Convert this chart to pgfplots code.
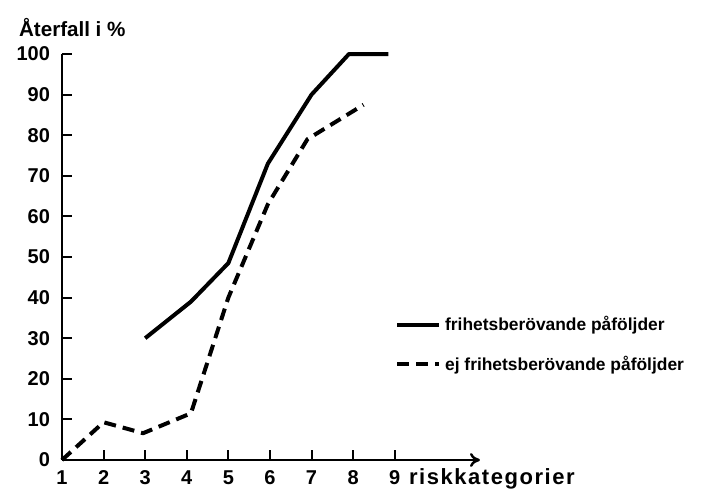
\documentclass[border=0pt]{standalone}
\usepackage{fontspec}
\setmainfont{Liberation Sans}
\usepackage{pgfplots}
\pgfplotsset{compat=1.18}
\usetikzlibrary{arrows.meta}

\begin{document}
\begin{tikzpicture}
\useasboundingbox (-31pt,-14.5pt) rectangle (326pt,230pt);
\begin{axis}[
    scale only axis,
    width=209pt, height=203pt,
    xmin=1, xmax=11.05,
    ymin=0, ymax=100,
    axis x line*=bottom,
    axis y line*=left,
    axis line style={line width=1.2pt},
    x axis line style={-{To[length=5pt,width=7pt]}},
    xtick={1,...,9},
    ytick={0,10,...,100},
    xtick pos=bottom, ytick pos=left,
    tick align=inside,
    major tick length=5pt,
    tick style={line width=1pt, black},
    ticklabel style={font=\fontsize{10}{12}\selectfont\bfseries},
    /pgf/number format/assume math mode=true,
    yticklabel style={xshift=-2.5pt},
    xticklabel style={anchor=base, yshift=-12pt},
    clip=false,
    legend style={draw=none, fill=none, at={(axis cs:9,28.4)}, anchor=west,
        font=\fontsize{8.7}{10}\selectfont\bfseries, row sep=7pt, inner sep=0pt,
        cells={anchor=west}},
    legend image code/.code={\draw[#1] (0pt,0pt) -- (21pt,0pt);},
]
% frihetsberovande
\addplot[black, line width=2pt, line join=round] coordinates {
    (3,30)(4.1,39)(5,48.5)(5.95,73)(7,90)(7.9,100)(8.85,100)
};
\addlegendentry{frihetsberövande påföljder}
% ej frihetsberovande
\addplot[black, line width=2pt, line join=round, dash pattern=on 6pt off 3.5pt] coordinates {
    (1,0)(2,9.3)(2.95,6.6)(4.1,11.5)(5,40)(5.95,63)(6.9,79)(8.25,87.5)
};
\addlegendentry{ej frihetsberövande påföljder}
\end{axis}
\node[anchor=base west, font=\fontsize{10.3}{12}\selectfont\bfseries] at (-25pt,212pt) {Återfall i \%};
\node[anchor=base west, font=\fontsize{11}{13}\selectfont\bfseries\addfontfeatures{LetterSpace=7}] at (170pt,-12pt) {riskkategorier};
\end{tikzpicture}
\end{document}
